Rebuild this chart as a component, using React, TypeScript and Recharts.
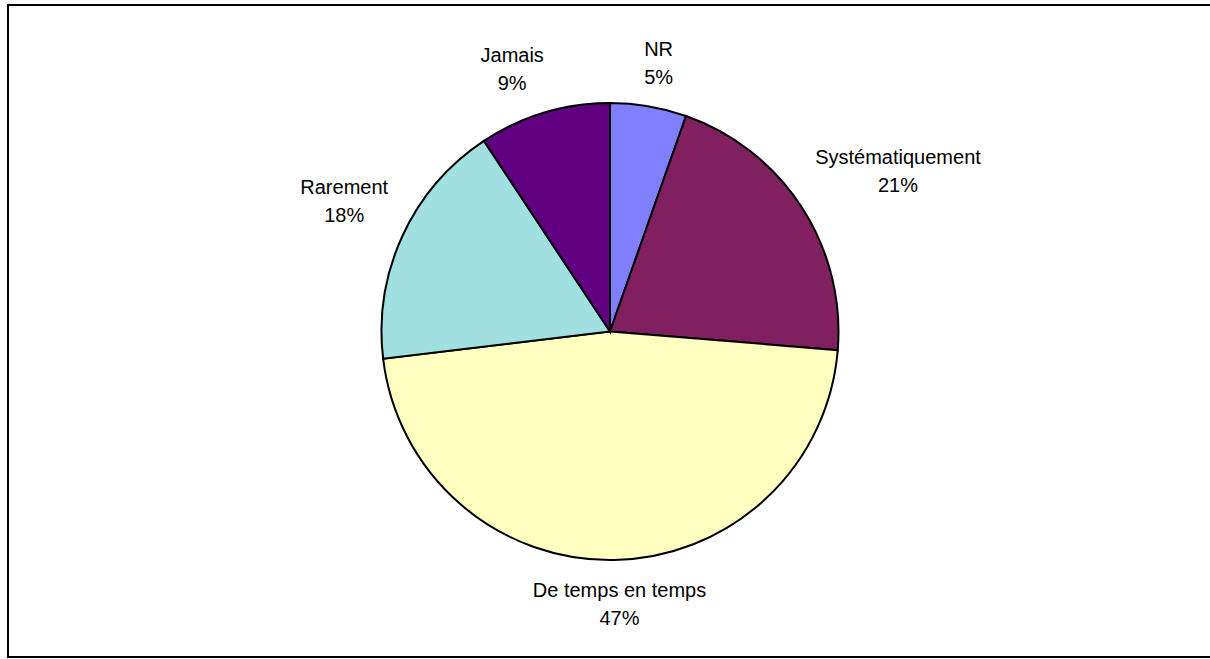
import React from 'react'
import { PieChart, Pie, Cell } from 'recharts'

const categories = ['NR', 'Systématiquement', 'De temps en temps', 'Rarement', 'Jamais']
const values = [5.4, 20.9, 46.8, 17.6, 9.3]
const colors = ['#8080FF', '#802060', '#FFFFC0', '#A0E0E0', '#600080']

const data = categories.map((name, i) => ({ name, value: values[i] }))

const FONT = 20
const LINE = 28
const FAMILY = "'Liberation Sans', Arial, sans-serif"
const RAD = Math.PI / 180

let ctx: CanvasRenderingContext2D | null = null
const textWidth = (t: string) => {
  if (!ctx) ctx = document.createElement('canvas').getContext('2d')
  if (!ctx) return t.length * 0.55 * FONT
  ctx.font = `${FONT}px ${FAMILY}`
  return ctx.measureText(t).width
}

const clamp = (v: number) => Math.max(-1, Math.min(1, v))

// excel-like outside label: anchor past the rim on the mid angle,
// box pushed away from the pie so its near corner sits on the anchor
const renderLabel = (props: any) => {
  const { cx, cy, midAngle, outerRadius, name, percent } = props
  const pct = `${Math.round(percent * 100)}%`
  const w = Math.max(textWidth(name), textWidth(pct))
  const h = LINE * 2
  const c = Math.cos(-midAngle * RAD)
  const s = Math.sin(-midAngle * RAD)
  const r = outerRadius + 16
  const x = cx + r * c + clamp(3 * c) * w / 2
  const y = cy + r * s + clamp(3 * s) * h / 2
  return (
    <text x={x} y={y} textAnchor="middle" fill="#000" fontSize={FONT} fontFamily={FAMILY}>
      <tspan x={x} dy={-7}>{name}</tspan>
      <tspan x={x} dy={LINE}>{pct}</tspan>
    </text>
  )
}

export default function App() {
  return (
    <div style={{ position: 'absolute', left: 0, top: 0, width: 1210, height: 659, background: '#fff', overflow: 'hidden' }}>
      <div
        style={{
          position: 'absolute',
          left: 7,
          top: 4,
          width: 1220,
          height: 650,
          border: '2px solid #000',
        }}
      />
      <div style={{ position: 'absolute', left: 0, top: 0 }}>
        <PieChart width={1210} height={659} margin={{ top: 0, right: 0, bottom: 0, left: 0 }}>
          <Pie
            data={data}
            dataKey="value"
            nameKey="name"
            cx={610}
            cy={331.5}
            outerRadius={228.5}
            startAngle={90}
            endAngle={-270}
            stroke="#000"
            strokeWidth={2}
            label={renderLabel}
            labelLine={false}
            isAnimationActive={false}
          >
            {data.map((d, i) => (
              <Cell key={d.name} fill={colors[i]} />
            ))}
          </Pie>
        </PieChart>
      </div>
    </div>
  )
}
